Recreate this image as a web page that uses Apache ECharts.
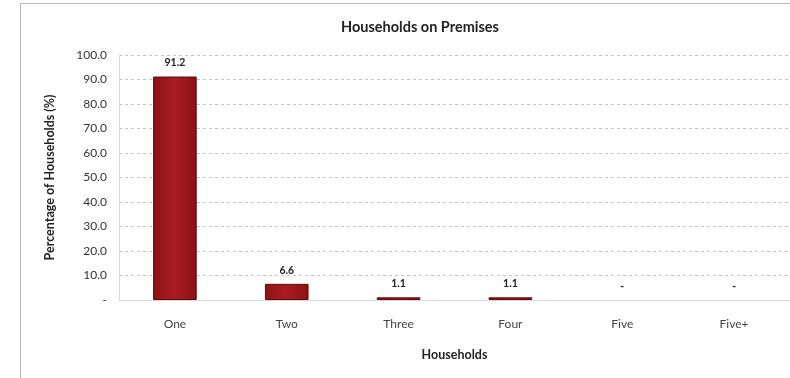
<!DOCTYPE html>
<html>
<head>
<meta charset="utf-8">
<script src="https://cdn.jsdelivr.net/npm/echarts@6/dist/echarts.min.js"></script>
<style>
  html, body { margin: 0; padding: 0; background: #fff; }
  #chart { width: 790px; height: 378px; }
</style>
</head>
<body>
<div id="chart"></div>
<script>
// Share of households by number of households on the premises
const categories = ['One', 'Two', 'Three', 'Four', 'Five', 'Five+'];
const percentages = [91.2, 6.6, 1.1, 1.1, 0, 0];
const yTicks = [0, 10, 20, 30, 40, 50, 60, 70, 80, 90, 100];

const FONT = 'Lato, "Open Sans", sans-serif';

const fmtTick = v => (v === 0 ? '-' : v.toFixed(1));
const fmtLabel = v => (v === 0 ? '-' : v.toFixed(1));

// zero-valued bars get no outline so nothing shows on the baseline
const barData = percentages.map(v =>
  v === 0 ? { value: v, itemStyle: { borderWidth: 0, opacity: 0 } } : v
);

const chart = echarts.init(document.getElementById('chart'), null, { renderer: 'canvas' });

chart.setOption({
  animation: false,
  backgroundColor: '#ffffff',
  textStyle: { fontFamily: FONT },
  title: {
    text: 'Households on Premises',
    left: 415,
    textAlign: 'center',
    top: 15,
    textStyle: { fontFamily: FONT, fontSize: 14.5, fontWeight: 'bold', color: '#222' }
  },
  graphic: [
    {
      type: 'rect',
      shape: { x: 20.5, y: 3.5, width: 800, height: 400 },
      style: { fill: 'none', stroke: '#b5b5b5', lineWidth: 1 },
      silent: true
    }
  ],
  grid: { left: 119, right: 0, top: 55, bottom: 78, containLabel: false },
  xAxis: {
    type: 'category',
    data: categories,
    name: 'Households',
    nameLocation: 'middle',
    nameGap: 48,
    nameTextStyle: { fontFamily: FONT, fontSize: 12.5, fontWeight: 'bold', color: '#222' },
    axisLine: { show: true, lineStyle: { color: '#d9d9d9', width: 1 } },
    axisTick: { show: false },
    axisLabel: { margin: 18, fontFamily: FONT, fontSize: 12, color: '#444' }
  },
  yAxis: {
    type: 'value',
    min: 0,
    max: 100,
    interval: 10,
    name: 'Percentage of Households (%)',
    nameLocation: 'middle',
    nameRotate: 90,
    nameGap: 63,
    nameTextStyle: { fontFamily: FONT, fontSize: 12.5, fontWeight: 'bold', color: '#222' },
    axisLine: { show: true, lineStyle: { color: '#d9d9d9', width: 1 } },
    axisTick: { show: false },
    axisLabel: {
      margin: 12,
      fontFamily: FONT,
      fontSize: 12,
      color: '#333',
      formatter: fmtTick,
      customValues: yTicks
    },
    splitLine: { show: true, lineStyle: { color: '#c4c4c4', type: [3, 3], width: 1 } }
  },
  series: [
    {
      type: 'bar',
      data: barData,
      barWidth: '39%',
      itemStyle: {
        color: new echarts.graphic.LinearGradient(0, 0, 1, 0, [
          { offset: 0, color: '#8e1116' },
          { offset: 0.5, color: '#a91d22' },
          { offset: 1, color: '#8a1014' }
        ]),
        borderColor: '#5e0a0c',
        borderWidth: 1
      },
      label: {
        show: true,
        position: 'top',
        distance: 8,
        fontFamily: FONT,
        fontSize: 10.5,
        fontWeight: 'bold',
        color: '#222',
        opacity: 1,
        formatter: p => fmtLabel(p.value)
      }
    }
  ]
});
</script>
</body>
</html>
